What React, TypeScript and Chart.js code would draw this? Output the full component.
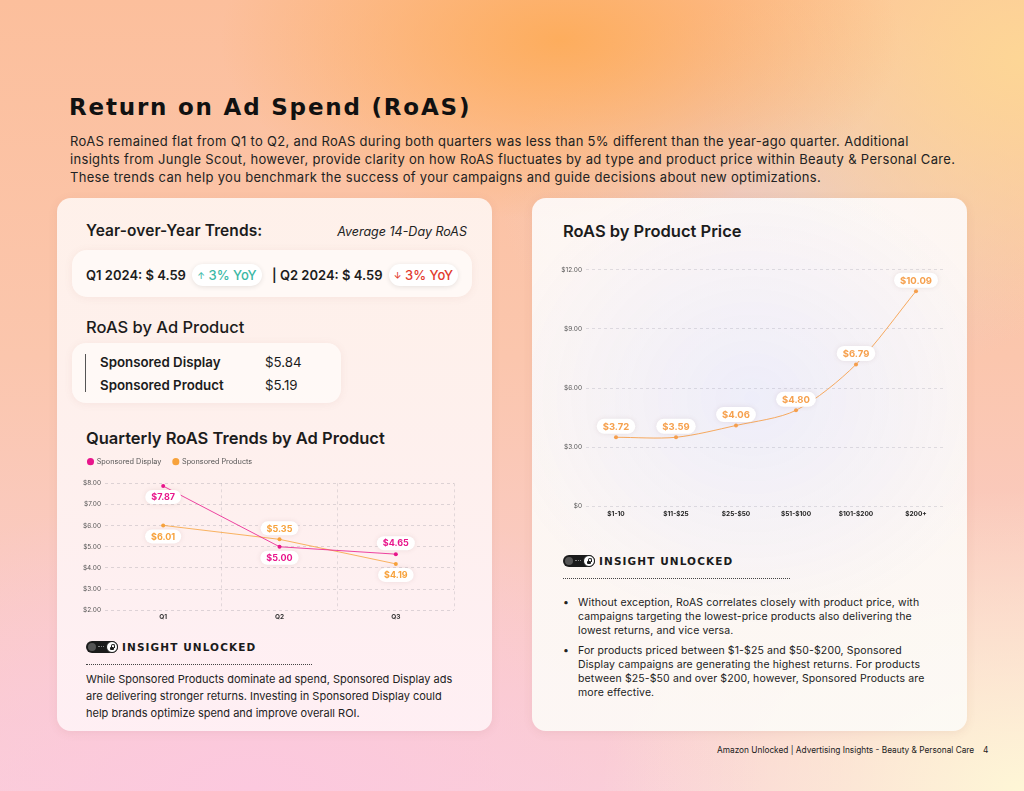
import React, { useEffect, useRef } from "react";
import { Chart, registerables } from "chart.js";

Chart.register(...registerables);

// ---------- DATA ----------
const quarters = ["Q1", "Q2", "Q3"];
const displayValues = [7.87, 5.0, 4.65];
const productValues = [6.01, 5.35, 4.19];
const displayLabels = ["$7.87", "$5.00", "$4.65"];
const productLabels = ["$6.01", "$5.35", "$4.19"];
const displaySides = ["below", "below", "above"];
const productSides = ["below", "above", "below"];

const priceBands = ["$1-10", "$11-$25", "$25-$50", "$51-$100", "$101-$200", "$200+"];
// values as plotted in the reference
const priceValues = [3.5, 3.5, 4.1, 4.87, 7.2, 10.92];
// values as printed on the labels
const priceLabels = ["$3.72", "$3.59", "$4.06", "$4.80", "$6.79", "$10.09"];
const priceSides = ["above", "above", "above", "above", "above", "above"];

const FONT = '"Inter", "Open Sans", sans-serif';
const TITLE_FONT = '"DejaVu Sans", sans-serif';

const MAGENTA = "#e8168c";
const ORANGE = "#f7a23b";
const ORANGE2 = "#f6a04d";

// ---------- pill label plugin ----------
const pillPlugin = {
  id: "pills",
  afterDatasetsDraw(chart: any, _args: any, opts: any) {
    const ctx = chart.ctx;
    chart.data.datasets.forEach((ds: any, di: number) => {
      const meta = chart.getDatasetMeta(di);
      if (!ds.pillTexts) return;
      meta.data.forEach((pt: any, i: number) => {
        const text = ds.pillTexts[i];
        ctx.save();
        ctx.font = opts.font;
        const w = ctx.measureText(text).width + opts.padX * 2;
        const h = opts.height;
        const cx = pt.x;
        const cy = pt.y + (ds.pillSides[i] === "above" ? -opts.offset : opts.offset);
        ctx.shadowColor = "rgba(120,80,80,0.12)";
        ctx.shadowBlur = 5;
        ctx.fillStyle = "#ffffff";
        ctx.beginPath();
        ctx.roundRect(cx - w / 2, cy - h / 2, w, h, h / 2);
        ctx.fill();
        ctx.shadowColor = "transparent";
        ctx.fillStyle = ds.pillColor;
        ctx.textAlign = "center";
        ctx.textBaseline = "middle";
        ctx.fillText(text, cx, cy + 0.5);
        ctx.restore();
      });
    });
  },
};

// adds space between the legend and the plot area
const legendGapPlugin = {
  id: "legendGap",
  beforeInit(chart: any) {
    if (!chart.legend) return;
    const orig = chart.legend.fit;
    chart.legend.fit = function () {
      orig.call(this);
      this.height += 8;
    };
  },
};

function QuarterlyChart() {
  const ref = useRef<HTMLCanvasElement>(null);
  useEffect(() => {
    const chart = new Chart(ref.current!, {
      type: "line",
      data: {
        labels: quarters,
        datasets: [
          {
            label: "Sponsored Display",
            data: displayValues,
            borderColor: MAGENTA,
            backgroundColor: MAGENTA,
            borderWidth: 0.8,
            pointRadius: 2,
            pointBorderWidth: 0,
            tension: 0,
            pillTexts: displayLabels,
            pillSides: displaySides,
            pillColor: MAGENTA,
          } as any,
          {
            label: "Sponsored Products",
            data: productValues,
            borderColor: ORANGE,
            backgroundColor: ORANGE,
            borderWidth: 0.8,
            pointRadius: 2,
            pointBorderWidth: 0,
            tension: 0,
            pillTexts: productLabels,
            pillSides: productSides,
            pillColor: ORANGE,
          } as any,
        ],
      },
      options: {
        animation: false,
        responsive: false,
        layout: { padding: { left: 0, right: 6, top: 0, bottom: 0 } },
        plugins: {
          legend: {
            display: true,
            align: "start",
            labels: {
              usePointStyle: true,
              pointStyle: "circle",
              boxWidth: 5,
              boxHeight: 5,
              padding: 12,
              color: "#555",
              font: { family: FONT, size: 7.3 },
            },
          },
          tooltip: { enabled: false },
          pills: { font: `700 9px ${FONT}`, padX: 6, height: 14, offset: 11 },
        } as any,
        scales: {
          x: {
            offset: true,
            grid: {
              offset: true,
              drawTicks: false,
              color: (c: any) => (c.index === 0 || c.index === 3 ? "rgba(0,0,0,0)" : "rgba(120,120,130,0.25)"),
              lineWidth: 0.8,
            },
            border: { display: false, dash: [3, 3] },
            ticks: { color: "#333", font: { family: FONT, size: 6.5, weight: "bold" }, padding: 3 },
          },
          y: {
            min: 2,
            max: 8,
            afterFit: (s: any) => {
              s.width = 29;
            },
            grid: { drawTicks: false, color: "rgba(120,120,130,0.3)", lineWidth: 0.8 },
            border: { display: false, dash: [3, 3] },
            ticks: {
              stepSize: 1,
              padding: 4,
              color: "#555",
              font: { family: FONT, size: 6.5 },
              callback: (v: any) => "$" + Number(v).toFixed(2),
            },
          },
        },
      },
      plugins: [legendGapPlugin, pillPlugin],
    });
    return () => chart.destroy();
  }, []);
  return <canvas ref={ref} width={384} height={178} style={{ position: "absolute", left: 76, top: 446, width: 384, height: 178 }} />;
}

function PriceChart() {
  const ref = useRef<HTMLCanvasElement>(null);
  useEffect(() => {
    const chart = new Chart(ref.current!, {
      type: "line",
      data: {
        labels: priceBands,
        datasets: [
          {
            label: "RoAS",
            data: priceValues,
            borderColor: ORANGE2,
            backgroundColor: ORANGE2,
            borderWidth: 0.9,
            pointRadius: 2,
            pointBorderWidth: 0,
            tension: 0.3,
            pillTexts: priceLabels,
            pillSides: priceSides,
            pillColor: ORANGE2,
          } as any,
        ],
      },
      options: {
        animation: false,
        responsive: false,
        layout: { padding: { left: 0, right: 1, top: 0, bottom: 0 } },
        plugins: {
          legend: { display: false },
          tooltip: { enabled: false },
          pills: { font: `700 9.5px ${FONT}`, padX: 6, height: 15, offset: 11 },
        } as any,
        scales: {
          x: {
            offset: true,
            grid: { display: false, drawTicks: false },
            border: { display: false },
            ticks: { color: "#222", font: { family: FONT, size: 6.5, weight: "bold" }, padding: 4 },
          },
          y: {
            min: 0,
            max: 12,
            afterFit: (s: any) => {
              s.width = 31;
            },
            grid: { drawTicks: false, color: "rgba(120,120,140,0.25)", lineWidth: 0.8 },
            border: { display: false, dash: [3, 3] },
            ticks: {
              stepSize: 3,
              padding: 4,
              color: "#555",
              font: { family: FONT, size: 6.5 },
              callback: (v: any) => (Number(v) === 0 ? "$0" : "$" + Number(v).toFixed(2)),
            },
          },
        },
      },
      plugins: [pillPlugin],
    });
    return () => chart.destroy();
  }, []);
  return <canvas ref={ref} width={395} height={260} style={{ position: "absolute", left: 555, top: 262, width: 395, height: 260 }} />;
}

function InsightIcon({ left, top }: { left: number; top: number }) {
  return (
    <div style={{ position: "absolute", left, top }}>
      <div style={{ position: "absolute", left: 0, top: 0, width: 32, height: 12, borderRadius: 6, background: "#1b1b1b" }} />
      <div style={{ position: "absolute", left: 2, top: 2, width: 8, height: 8, borderRadius: 4, background: "#555" }} />
      <div style={{ position: "absolute", left: 12, top: 5, width: 6, height: 2, borderTop: "1px dotted #888" }} />
      <div
        style={{
          position: "absolute",
          left: 20,
          top: 0,
          width: 10,
          height: 10,
          borderRadius: 6,
          background: "#fff",
          border: "1px solid #1b1b1b",
        }}
      >
        <div style={{ position: "absolute", left: 3, top: 4.5, width: 4, height: 3, background: "#1b1b1b", borderRadius: 1 }} />
        <div style={{ position: "absolute", left: 3.5, top: 2, width: 2, height: 3, border: "1px solid #1b1b1b", borderBottom: "none", borderRadius: "2px 2px 0 0" }} />
      </div>
      <div
        style={{
          position: "absolute",
          left: 36,
          top: -3,
          fontFamily: TITLE_FONT,
          fontWeight: 700,
          fontSize: 10.5,
          letterSpacing: 1.1,
          whiteSpace: "nowrap",
          color: "#1b1b1b",
          lineHeight: "18px",
        }}
      >
        INSIGHT UNLOCKED
      </div>
    </div>
  );
}

const abs = (o: any) => ({ position: "absolute" as const, whiteSpace: "nowrap" as const, ...o });

export default function App() {
  return (
    <div
      style={{
        position: "fixed",
        left: 0,
        top: 0,
        width: 1024,
        height: 791,
        overflow: "hidden",
        fontFamily: FONT,
        color: "#1c1c1c",
        background: [
          "radial-gradient(ellipse 340px 180px at 560px 40px, rgba(253,172,90,0.95), rgba(253,172,90,0) 100%)",
          "radial-gradient(ellipse 420px 300px at 1020px 790px, rgba(254,246,214,1), rgba(254,246,214,0) 100%)",
          "radial-gradient(ellipse 320px 280px at 1020px 60px, rgba(253,214,150,1), rgba(253,214,150,0) 100%)",
          "radial-gradient(ellipse 520px 300px at 250px 791px, rgba(252,200,222,1), rgba(252,200,222,0) 100%)",
          "radial-gradient(ellipse 300px 200px at 800px 200px, rgba(232,205,200,0.8), rgba(232,205,200,0) 100%)",
          "linear-gradient(180deg, #fcbf9c 0%, #fbc6ad 45%, #f9cfd6 100%)",
        ].join(","),
      }}
    >
      {/* Title */}
      <div style={abs({ left: 69, top: 92, fontFamily: TITLE_FONT, fontWeight: 700, fontSize: 23, letterSpacing: 1.8, lineHeight: "30px", color: "#111" })}>
        Return on Ad Spend (RoAS)
      </div>
      <div style={abs({ left: 70, top: 132, fontSize: 13, letterSpacing: 0.32, lineHeight: "18px", color: "#222" })}>
        RoAS remained flat from Q1 to Q2, and RoAS during both quarters was less than 5% different than the year-ago quarter. Additional
        <br />
        insights from Jungle Scout, however, provide clarity on how RoAS fluctuates by ad type and product price within Beauty &amp; Personal Care.
        <br />
        These trends can help you benchmark the success of your campaigns and guide decisions about new optimizations.
      </div>

      {/* Left card */}
      <div
        style={{
          position: "absolute",
          left: 57,
          top: 198,
          width: 435,
          height: 533,
          borderRadius: 14,
          background: "linear-gradient(180deg, rgba(255,248,245,0.86), rgba(255,244,247,0.88))",
          boxShadow: "0 2px 10px rgba(150,90,80,0.10)",
        }}
      />
      <div style={abs({ left: 86, top: 221, fontSize: 15.5, fontWeight: 600, letterSpacing: 0.1, lineHeight: "20px" })}>Year-over-Year Trends:</div>
      <div style={abs({ right: 1024 - 467, top: 222, fontSize: 12.5, fontStyle: "italic", lineHeight: "20px", color: "#222" })}>
        Average 14-Day RoAS
      </div>
      <div
        style={{
          position: "absolute",
          left: 72,
          top: 250,
          width: 400,
          height: 47,
          borderRadius: 15,
          background: "rgba(255,252,251,0.7)",
          boxShadow: "0 1px 8px rgba(150,90,80,0.08)",
        }}
      />
      <div style={abs({ left: 86, top: 265, fontSize: 13, fontWeight: 600, lineHeight: "20px" })}>Q1 2024: $ 4.59</div>
      <div
        style={abs({
          left: 192,
          top: 264,
          width: 70,
          height: 22,
          borderRadius: 11,
          background: "#fff",
          boxShadow: "0 1px 5px rgba(0,0,0,0.10)",
          textAlign: "center",
          lineHeight: "22px",
          fontSize: 13,
          color: "#3bb8a5",
          fontWeight: 500,
        })}
      >
        <span style={{ fontSize: 9, verticalAlign: "1px" }}>↑</span> 3% YoY
      </div>
      <div style={abs({ left: 272, top: 265, fontSize: 13, fontWeight: 600, lineHeight: "20px" })}>| Q2 2024: $ 4.59</div>
      <div
        style={abs({
          left: 389,
          top: 264,
          width: 69,
          height: 22,
          borderRadius: 11,
          background: "#fff",
          boxShadow: "0 1px 5px rgba(0,0,0,0.10)",
          textAlign: "center",
          lineHeight: "22px",
          fontSize: 13,
          color: "#e23b2e",
          fontWeight: 500,
        })}
      >
        <span style={{ fontSize: 9, verticalAlign: "1px" }}>↓</span> 3% YoY
      </div>

      <div style={abs({ left: 86, top: 317, fontSize: 16.5, fontWeight: 500, lineHeight: "20px" })}>RoAS by Ad Product</div>
      <div
        style={{
          position: "absolute",
          left: 72,
          top: 343,
          width: 269,
          height: 60,
          borderRadius: 14,
          background: "rgba(255,252,251,0.7)",
          boxShadow: "0 1px 8px rgba(150,90,80,0.08)",
        }}
      />
      <div style={{ position: "absolute", left: 85, top: 354, width: 1, height: 38, background: "#555" }} />
      <div style={abs({ left: 100, top: 353, fontSize: 13.3, fontWeight: 600, lineHeight: "18px" })}>Sponsored Display</div>
      <div style={abs({ left: 265, top: 353, fontSize: 13.3, lineHeight: "18px" })}>$5.84</div>
      <div style={abs({ left: 100, top: 376, fontSize: 13.3, fontWeight: 600, lineHeight: "18px" })}>Sponsored Product</div>
      <div style={abs({ left: 265, top: 376, fontSize: 13.3, lineHeight: "18px" })}>$5.19</div>

      <div style={abs({ left: 86, top: 428, fontSize: 16.5, fontWeight: 600, lineHeight: "20px" })}>Quarterly RoAS Trends by Ad Product</div>
      <QuarterlyChart />

      <InsightIcon left={86} top={641} />
      <div style={{ position: "absolute", left: 86, top: 664, width: 226, borderTop: "1.5px dotted #444" }} />
      <div style={abs({ left: 86, top: 671, fontSize: 11, lineHeight: "17px", color: "#222" })}>
        While Sponsored Products dominate ad spend, Sponsored Display ads
        <br />
        are delivering stronger returns. Investing in Sponsored Display could
        <br />
        help brands optimize spend and improve overall ROI.
      </div>

      {/* Right card */}
      <div
        style={{
          position: "absolute",
          left: 532,
          top: 198,
          width: 435,
          height: 533,
          borderRadius: 14,
          background:
            "radial-gradient(ellipse 260px 230px at 220px 200px, rgba(236,236,250,0.9), rgba(236,236,250,0) 100%), linear-gradient(180deg, rgba(253,250,249,0.92), rgba(252,250,246,0.92))",
          boxShadow: "0 2px 10px rgba(150,90,80,0.10)",
        }}
      />
      <div style={abs({ left: 563, top: 221, fontSize: 16.5, fontWeight: 600, lineHeight: "20px" })}>RoAS by Product Price</div>
      <PriceChart />

      <InsightIcon left={563} top={555} />
      <div style={{ position: "absolute", left: 563, top: 578, width: 227, borderTop: "1.5px dotted #444" }} />
      <div style={abs({ left: 563, top: 596, fontSize: 10.5, letterSpacing: 0.12, lineHeight: "14px", color: "#222" })}>
        <div style={{ position: "relative", paddingLeft: 15 }}>
          <span style={{ position: "absolute", left: 0 }}>•</span>
          Without exception, RoAS correlates closely with product price, with
          <br />
          campaigns targeting the lowest-price products also delivering the
          <br />
          lowest returns, and vice versa.
        </div>
        <div style={{ position: "relative", paddingLeft: 15, marginTop: 6 }}>
          <span style={{ position: "absolute", left: 0 }}>•</span>
          For products priced between $1-$25 and $50-$200, Sponsored
          <br />
          Display campaigns are generating the highest returns. For products
          <br />
          between $25-$50 and over $200, however, Sponsored Products are
          <br />
          more effective.
        </div>
      </div>

      {/* Footer */}
      <div style={abs({ left: 717, top: 744, fontSize: 8.3, lineHeight: "12px", color: "#222" })}>
        Amazon Unlocked | Advertising Insights - Beauty &amp; Personal Care
      </div>
      <div style={abs({ left: 983, top: 744, fontSize: 8.3, lineHeight: "12px", color: "#222" })}>4</div>
    </div>
  );
}
